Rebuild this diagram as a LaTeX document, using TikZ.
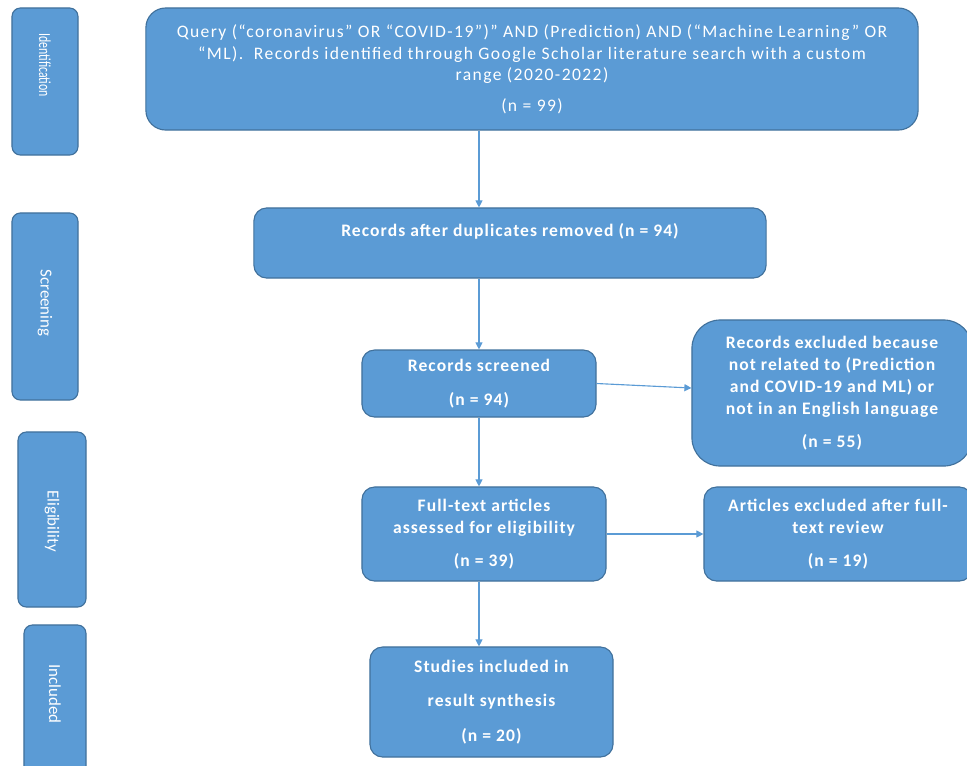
\documentclass[tikz,border=0pt]{standalone}
\usepackage{fontspec}
\setmainfont{Carlito}
\newfontfamily\boxfont{Carlito}[LetterSpace=6]
\newfontfamily\queryfont{Carlito}[LetterSpace=8]
\usepackage{tikz}
\usetikzlibrary{arrows.meta, positioning, calc}
\definecolor{myblue}{RGB}{91,155,213}
\definecolor{myedge}{RGB}{65,113,156}
\tikzset{
  block/.style={rectangle, draw=myedge, fill=myblue, text=white,
    align=center, font=\boxfont\bfseries\fontsize{12.5}{15.5}\selectfont,
    rounded corners=9pt, line width=0.8pt, inner sep=2pt},
  sidebox/.style={rectangle, draw=myedge, fill=myblue, text=white,
    minimum width=1.65cm, rounded corners=6pt, line width=0.8pt},
  sidelabel/.style={text=white, rotate=-90, font=\fontsize{12}{14}\selectfont},
  arrow/.style={-{Triangle[length=5pt,width=5pt]}, line width=0.8pt, color=myblue}
}

\begin{document}
\begin{tikzpicture}[x=0.025cm, y=-0.025cm]
  \useasboundingbox (0,0) rectangle (967,765);

  % Phase boxes
  \node[sidebox, minimum height=3.675cm] (sideid) at (45,81.5) {};
  \node[sidelabel] at (45,65) {\scalebox{0.7}[1]{Identification}};
  \node[sidebox, minimum height=4.675cm] (sidescr) at (45,306.5) {};
  \node[sidelabel] at (45,303) {Screening};
  \node[sidebox, minimum width=1.7cm, minimum height=4.375cm] (sideelig) at (52,519.5) {};
  \node[sidelabel] at (52,521) {Eligibility};
  \node[sidebox, minimum width=1.55cm, minimum height=3.75cm] (sideinc) at (55,700) {};
  \node[sidelabel] at (55,694) {Included};

  % Flow boxes
  \node[block, font=\queryfont\fontsize{12.5}{15.5}\selectfont,
        minimum width=19.3cm, minimum height=3.05cm, rounded corners=14pt] (query) at (532,69)
    {Query (“coronavirus” OR “COVID-19”)” AND (Prediction) AND (“Machine Learning” OR\\
     “ML).\ \ Records identified through Google Scholar literature search with a custom\\
     range (2020-2022)\\[6pt] (n = 99)};
  \node[block, minimum width=12.8cm, minimum height=1.75cm] (dup) at (510,243)
    {Records after duplicates removed (n = 94)\\[3pt]};
  \node[block, minimum width=5.85cm, minimum height=1.675cm] (scr) at (479,383.5)
    {Records screened\\[9pt] (n = 94)};
  \node[block, minimum width=7.0cm, minimum height=3.65cm, rounded corners=20pt] (excl) at (832,393)
    {Records excluded because\\ not related to (Prediction\\ and COVID-19 and ML) or\\
     not in an English language\\[8pt] (n = 55)};
  \node[block, minimum width=6.1cm, minimum height=2.35cm] (ft) at (484,534)
    {Full-text articles\\ assessed for eligibility\\[8pt] (n = 39)};
  \node[block, minimum width=6.7cm, minimum height=2.35cm] (artexcl) at (838,534)
    {Articles excluded after full-\\ text review\\[8pt] (n = 19)};
  \node[block, minimum width=6.075cm, minimum height=2.75cm] (studies) at (491.5,702)
    {Studies included in\\[9pt] result synthesis\\[9pt] (n = 20)};

  % Connectors
  \draw[arrow] (query.south -| scr) -- (dup.north -| scr);
  \draw[arrow] (dup.south -| scr) -- (scr.north);
  \draw[arrow] (scr.east) -- ($(excl.west)+(0,-5)$);
  \draw[arrow] (scr.south) -- (ft.north -| scr);
  \draw[arrow] (ft.east) -- (artexcl.west);
  \draw[arrow] (ft.south -| scr) -- (studies.north -| scr);
\end{tikzpicture}
\end{document}
